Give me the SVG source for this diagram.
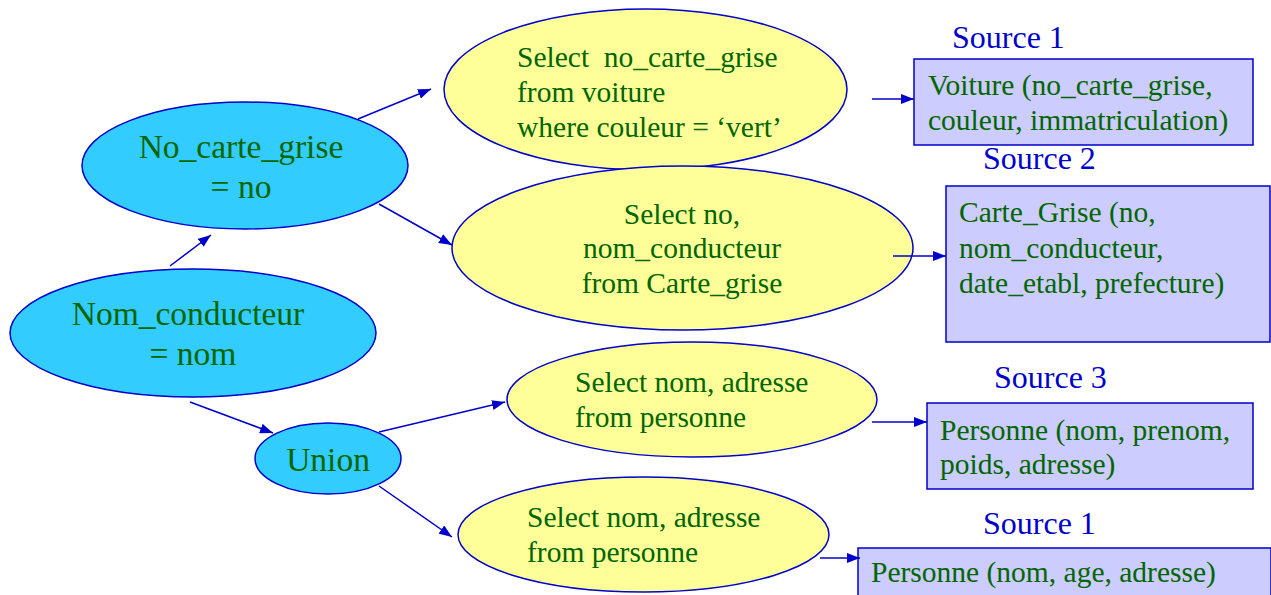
<svg xmlns="http://www.w3.org/2000/svg" width="1271" height="595" viewBox="0 0 1271 595">
<style>
.blue{fill:#33CCFF;stroke:#0000CC;stroke-width:1.5}
.yel{fill:#FFFF99;stroke:#0000CC;stroke-width:1.5}
.box{fill:#CCCCFF;stroke:#0000CC;stroke-width:1.5}
text{font-family:"Liberation Serif","Times New Roman",serif;fill:#006600;white-space:pre}
.big{font-size:33.5px}
.mid{font-size:29.5px}
.src{font-size:32px;fill:#0000CC}
.c{text-anchor:middle}
.conn line{stroke:#0000CC;stroke-width:1.5;marker-end:url(#ah)}
</style>
<defs>
<marker id="ah" markerUnits="userSpaceOnUse" markerWidth="14" markerHeight="10" refX="13" refY="5" orient="auto">
<path d="M0,0 L13,5 L0,10 Z" fill="#0000CC"/>
</marker>
</defs>
<rect width="1271" height="595" fill="#FFFFFF"/>
<g id="n-nocarte">
<ellipse class="blue" cx="245" cy="165.5" rx="163" ry="63.5"/>
<text class="big c" x="241" y="158">No_carte_grise</text>
<text class="big c" x="241" y="198">= no</text>
</g>
<g id="n-nomcond">
<ellipse class="blue" cx="193" cy="333" rx="183" ry="64"/>
<text class="big c" x="188" y="325">Nom_conducteur</text>
<text class="big c" x="193" y="365">= nom</text>
</g>
<g id="n-union">
<ellipse class="blue" cx="328" cy="458.5" rx="73" ry="35.5"/>
<text class="big c" x="328" y="471">Union</text>
</g>
<g id="n-q1">
<ellipse class="yel" cx="645.5" cy="89.5" rx="201.5" ry="80.5"/>
<text class="mid" x="517" y="67">Select  no_carte_grise</text>
<text class="mid" x="517" y="102">from voiture</text>
<text class="mid" x="517" y="137">where couleur = ‘vert’</text>
</g>
<g id="n-q2">
<ellipse class="yel" cx="682.5" cy="248" rx="230.5" ry="82"/>
<text class="mid c" x="682" y="224">Select no,</text>
<text class="mid c" x="682" y="258">nom_conducteur</text>
<text class="mid c" x="682" y="293">from Carte_grise</text>
</g>
<g id="n-q3">
<ellipse class="yel" cx="692" cy="399.5" rx="185" ry="57.5"/>
<text class="mid" x="575" y="392">Select nom, adresse</text>
<text class="mid" x="575" y="427">from personne</text>
</g>
<g id="n-q4">
<ellipse class="yel" cx="643.5" cy="534.5" rx="185.5" ry="57.5"/>
<text class="mid" x="527" y="527">Select nom, adresse</text>
<text class="mid" x="527" y="562">from personne</text>
</g>
<g id="n-s1">
<text class="src" x="952" y="48">Source 1</text>
<rect class="box" x="914" y="59" width="339" height="86"/>
<text class="mid" x="928" y="95">Voiture (no_carte_grise,</text>
<text class="mid" x="928" y="130">couleur, immatriculation)</text>
</g>
<g id="n-s2">
<text class="src" x="983" y="169">Source 2</text>
<rect class="box" x="946" y="186" width="324" height="156"/>
<text class="mid" x="959" y="222">Carte_Grise (no,</text>
<text class="mid" x="959" y="258">nom_conducteur,</text>
<text class="mid" x="959" y="293">date_etabl, prefecture)</text>
</g>
<g id="n-s3">
<text class="src" x="994" y="388">Source 3</text>
<rect class="box" x="927" y="403" width="326" height="86"/>
<text class="mid" x="940" y="440">Personne (nom, prenom,</text>
<text class="mid" x="940" y="474">poids, adresse)</text>
</g>
<g id="n-s4">
<text class="src" x="983" y="534">Source 1</text>
<rect class="box" x="858" y="548" width="413" height="60"/>
<text class="mid" x="871" y="582">Personne (nom, age, adresse)</text>
</g>
<g class="conn" id="connectors">
<line x1="170" y1="266" x2="211" y2="235"/>
<line x1="358" y1="119" x2="431" y2="89"/>
<line x1="379" y1="204" x2="452" y2="245"/>
<line x1="190" y1="402" x2="273" y2="433"/>
<line x1="379" y1="432" x2="505" y2="402"/>
<line x1="379" y1="486" x2="452" y2="537"/>
<line x1="872" y1="99" x2="914" y2="99"/>
<line x1="893" y1="256" x2="946" y2="256"/>
<line x1="872" y1="422" x2="927" y2="422"/>
<line x1="820" y1="558" x2="860" y2="558"/>
</g>
</svg>
